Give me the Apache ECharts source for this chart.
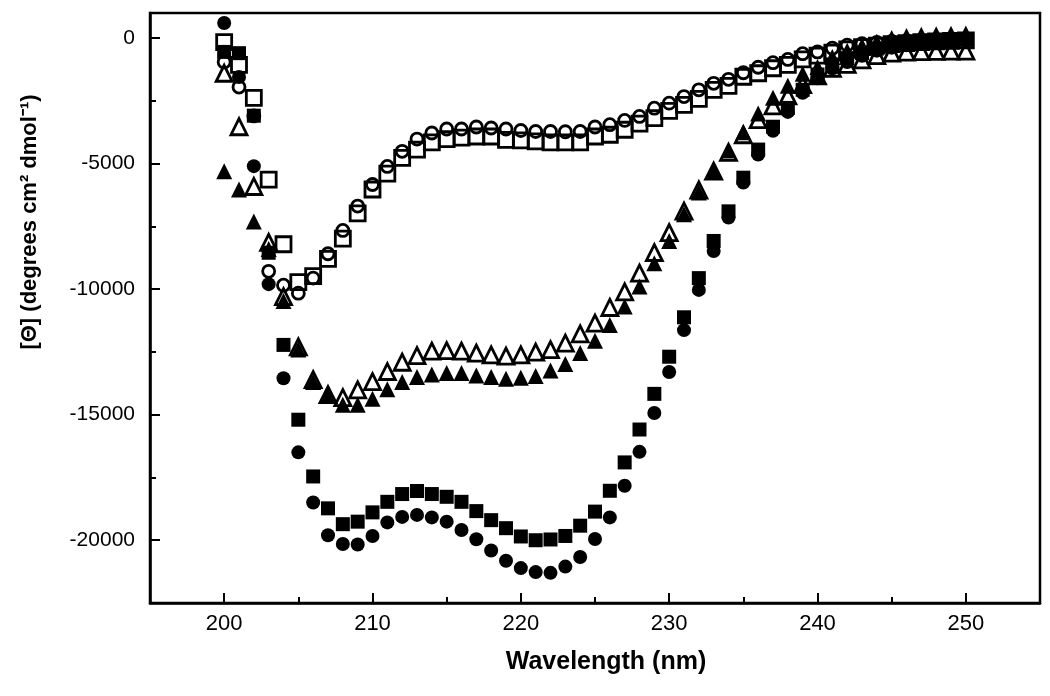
<!DOCTYPE html>
<html>
<head>
<meta charset="utf-8">
<script src="https://cdn.jsdelivr.net/npm/echarts@6/dist/echarts.min.js"></script>
<style>html,body{margin:0;padding:0;background:#fff}#c{width:1050px;height:696px}</style>
</head>
<body>
<div id="c"></div>
<script>
const wavelengths = [200,201,202,203,204,205,206,207,208,209,210,211,212,213,214,215,216,217,218,219,220,221,222,223,224,225,226,227,228,229,230,231,232,233,234,235,236,237,238,239,240,241,242,243,244,245,246,247,248,249,250];

const filledCircle = [600,-1550,-5100,-9800,-13550,-16500,-18500,-19800,-20150,-20170,-19830,-19290,-19070,-18990,-19090,-19260,-19590,-19960,-20410,-20820,-21110,-21270,-21300,-21050,-20670,-19950,-19090,-17830,-16480,-14930,-13300,-11630,-10030,-8480,-7150,-5750,-4640,-3690,-2940,-2180,-1600,-1200,-950,-700,-500,-380,-280,-200,-150,-120,-100];
const filledSquare = [-550,-600,-3090,-8550,-12220,-15200,-17460,-18730,-19360,-19260,-18890,-18470,-18160,-18040,-18160,-18270,-18470,-18840,-19200,-19520,-19850,-20000,-19970,-19830,-19420,-18860,-18030,-16900,-15590,-14170,-12690,-11120,-9560,-8080,-6900,-5560,-4440,-3530,-2780,-2060,-1450,-1050,-800,-600,-420,-300,-220,-160,-120,-90,-70];
const openCircle = [-950,-1950,-3100,-9290,-9840,-10160,-9560,-8590,-7660,-6690,-5830,-5110,-4510,-4020,-3780,-3620,-3620,-3540,-3580,-3620,-3680,-3720,-3720,-3730,-3720,-3540,-3450,-3280,-3120,-2790,-2590,-2330,-2060,-1800,-1640,-1380,-1160,-980,-850,-620,-550,-400,-280,-220,-170,-130,-100,-80,-60,-50,-40];
const openSquare = [-160,-1070,-2380,-5640,-8210,-9720,-9480,-8790,-7990,-6980,-6030,-5400,-4770,-4440,-4150,-4020,-3960,-3920,-3920,-4050,-4070,-4110,-4150,-4150,-4150,-3920,-3850,-3650,-3410,-3190,-2900,-2660,-2420,-2060,-1900,-1540,-1400,-1200,-1070,-850,-700,-580,-450,-360,-300,-240,-200,-160,-130,-110,-90];
const openTriangle = [-1400,-3530,-5910,-8140,-10300,-12300,-13600,-14200,-14320,-14010,-13680,-13280,-12910,-12650,-12470,-12450,-12470,-12550,-12620,-12670,-12620,-12510,-12410,-12150,-11780,-11350,-10730,-10110,-9360,-8540,-7750,-6890,-6050,-5300,-4550,-3850,-3250,-2700,-2300,-1850,-1500,-1200,-1050,-870,-700,-600,-560,-540,-530,-520,-520];
const filledTriangle = [-5300,-6030,-7300,-8400,-10470,-12400,-13700,-14230,-14600,-14600,-14360,-13990,-13700,-13500,-13400,-13340,-13340,-13440,-13500,-13570,-13530,-13460,-13240,-12980,-12540,-12050,-11430,-10690,-9890,-8970,-8080,-7020,-6150,-5300,-4480,-3750,-3000,-2380,-1900,-1420,-1150,-750,-500,-300,-150,0,80,130,150,170,180];

const xMajorTicks = [200,210,220,230,240,250];
const yMajorTicks = [0,-5000,-10000,-15000,-20000];

const xTitle = 'Wavelength (nm)';
const yTitle = '[\u0398] (degrees cm\u00B2 dmol\u207B\u00B9)';

function pairs(vals){ return wavelengths.map((w,i)=>[w, vals[i]]); }

const chart = echarts.init(document.getElementById('c'), null, {renderer:'canvas'});
const lw = 2.5;
const font = '"Liberation Sans", Arial, sans-serif';

function scatter(name, vals, symbol, size, filled, z){
  return {
    name, type:'scatter', data: pairs(vals), symbol, symbolSize:size, z,
    xAxisIndex:0, yAxisIndex:0,
    itemStyle: filled ? {color:'#000', opacity:1} : {color:'rgba(255,255,255,0)', borderColor:'#000', borderWidth:2.8, opacity:1},
    emphasis:{disabled:true}, animation:false
  };
}

chart.setOption({
  animation:false,
  backgroundColor:'#fff',
  grid:{left:150, right:10, top:13, bottom:93, show:true, borderColor:'#000', borderWidth:lw, backgroundColor:'transparent'},
  xAxis:[{
    type:'value', min:195, max:255, interval:5, position:'bottom',
    axisLine:{show:true, onZero:false, lineStyle:{color:'#000', width:lw}},
    axisTick:{show:true, inside:true, length:6, lineStyle:{color:'#000', width:2}},
    axisLabel:{margin:10, fontFamily:font, fontSize:22, color:'#000',
      formatter:function(v){ return xMajorTicks.indexOf(v) >= 0 ? String(v) : ''; }},
    splitLine:{show:false}
  },{
    type:'value', min:195, max:255, position:'bottom',
    axisLine:{show:false, onZero:false},
    axisTick:{show:true, inside:true, length:10, lineStyle:{color:'#000', width:2}, customValues:xMajorTicks},
    axisLabel:{show:false},
    splitLine:{show:false}
  }],
  yAxis:[{
    type:'value', min:-22500, max:1000, interval:2500, position:'left',
    axisLine:{show:true, onZero:false, lineStyle:{color:'#000', width:lw}},
    axisTick:{show:true, inside:true, length:6, lineStyle:{color:'#000', width:2}},
    axisLabel:{margin:15, fontFamily:font, fontSize:21, color:'#000',
      formatter:function(v){ return yMajorTicks.indexOf(v) >= 0 ? String(v) : ''; }},
    splitLine:{show:false}
  },{
    type:'value', min:-22500, max:1000, position:'left',
    axisLine:{show:false, onZero:false},
    axisTick:{show:true, inside:true, length:10, lineStyle:{color:'#000', width:2}, customValues:yMajorTicks},
    axisLabel:{show:false},
    splitLine:{show:false}
  }],
  graphic:[
    {type:'text', x:606, y:662, style:{text:xTitle, align:'center', verticalAlign:'middle', font:'bold 25px ' + font, fill:'#000'}},
    {type:'text', x:30, y:222, rotation:Math.PI/2, style:{text:yTitle, align:'center', verticalAlign:'middle', font:'bold 22px ' + font, fill:'#000'}}
  ],
  series:[
    scatter('filledCircle', filledCircle, 'circle', 14, true, 2),
    scatter('filledSquare', filledSquare, 'rect', 14, true, 3),
    scatter('filledTriangle', filledTriangle, 'triangle', 16, true, 4),
    scatter('openSquare', openSquare, 'rect', 15, false, 5),
    scatter('openCircle', openCircle, 'circle', 12, false, 6),
    scatter('openTriangle', openTriangle, 'triangle', 16, false, 7)
  ]
});
</script>
</body>
</html>
